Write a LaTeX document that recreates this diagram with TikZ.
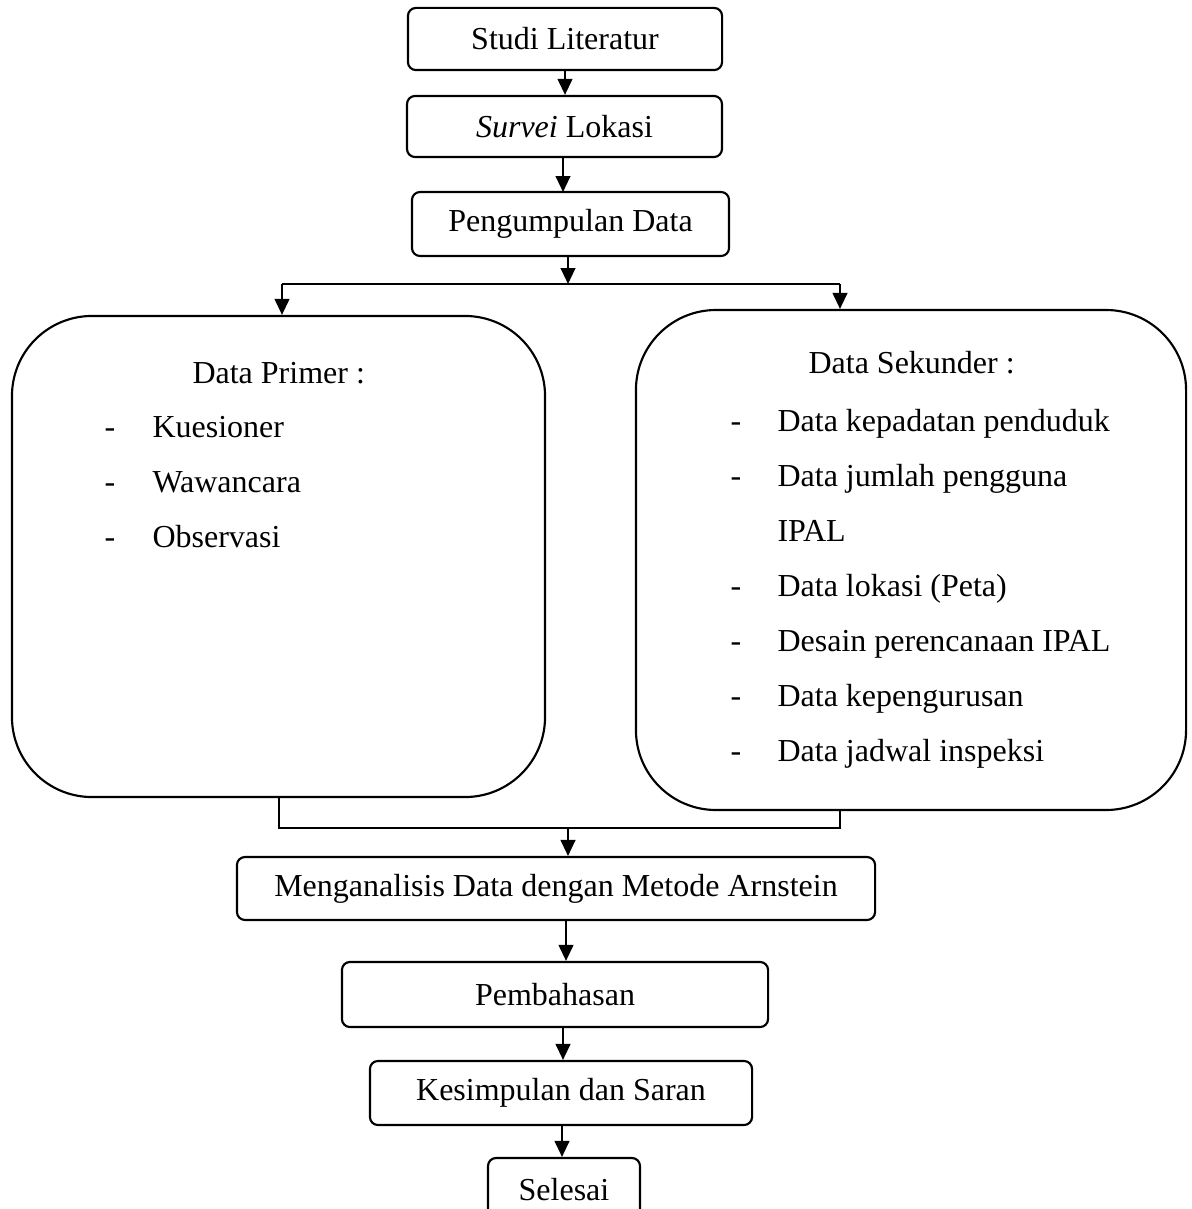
\documentclass[tikz,border=0pt]{standalone}
\usepackage{fontspec}
\setmainfont{Liberation Serif}
\usetikzlibrary{positioning}
\usetikzlibrary{arrows.meta}

\tikzset{
  stepbox/.style={draw, rounded corners=3pt, line width=0.8pt, inner sep=0pt},
  bigbox/.style={draw, rounded corners=30pt, line width=0.8pt, inner sep=0pt},
  flow/.style={line width=0.8pt, -{Triangle[length=6pt,width=5.5pt]}},
  link/.style={line width=0.8pt},
  itemtext/.style={anchor=base west, inner sep=0pt}
}

\begin{document}
\begin{tikzpicture}[x=0.375pt, y=-0.375pt, every node/.style={font=\fontsize{12}{14}\selectfont}]
                \useasboundingbox (0,0) rectangle (1191,1209);

                % Nodes
                \node[stepbox, minimum width=117.8pt, minimum height=23.3pt] at (565,39) (studi) {Studi Literatur};
                \node[stepbox, minimum width=118.1pt, minimum height=22.9pt] at (564.5,126.5) (survei) {\textit{Survei} Lokasi};
                \node[stepbox, minimum width=118.9pt, minimum height=24pt] at (570.5,224) (kumpul) {Pengumpulan Data};
                \node[bigbox, minimum width=199.9pt, minimum height=180.4pt] at (278.5,556.5) (primer) {};
                \node[bigbox, minimum width=206.3pt, minimum height=187.5pt] at (911,560) (sekunder) {};
                \node[stepbox, minimum width=239.3pt, minimum height=23.6pt] at (556,888.5) (analisis) {Menganalisis Data dengan Metode Arnstein};
                \node[stepbox, minimum width=159.8pt, minimum height=24.4pt] at (555,994.5) (bahas) {Pembahasan};
                \node[stepbox, minimum width=143.3pt, minimum height=24pt] at (561,1093) (simpul) {Kesimpulan dan Saran};
                \node[stepbox, minimum width=57pt, minimum height=24pt] at (564,1190) (selesai) {Selesai};

                % Data primer
                \node[itemtext] at (192,383) (primertitle) {Data Primer :};
                \foreach \y/\txt [count=\i] in {437/Kuesioner, 492/Wawancara, 547/Observasi} {
                  \node[itemtext] at (104,\y) (pdash\i) {-};
                  \node[itemtext] at (152,\y) (pitem\i) {\txt};
                }

                % Data sekunder
                \node[itemtext] at (808,373) (sekundertitle) {Data Sekunder :};
                \foreach \y/\txt [count=\i] in {431/Data kepadatan penduduk, 486/Data jumlah pengguna, 596/Data lokasi (Peta), 651/Desain perencanaan IPAL, 706/Data kepengurusan, 761/Data jadwal inspeksi} {
                  \node[itemtext] at (730,\y) (sdash\i) {-};
                  \node[itemtext] at (777,\y) (sitem\i) {\txt};
                }
                \node[itemtext] at (777,541) (sipal) {IPAL};

                % Split and join points
                \coordinate (split) at (568,284);
                \coordinate (splitL) at (282,284);
                \coordinate (splitR) at (840,284);
                \coordinate (join) at (568,828);
                \coordinate (joinL) at (279,828);
                \coordinate (joinR) at (840,828);

                % Arrows
                \draw[flow] (studi.south) -- (studi.south |- survei.north);
                \draw[flow] (563,157) -- (563,192);
                \draw[flow] (kumpul.south -| split) -- (split);
                \draw[link] (splitL) -- (splitR);
                \draw[flow] (splitL) -- (splitL |- primer.north);
                \draw[flow] (splitR) -- (splitR |- sekunder.north);
                \draw[link] (primer.south -| joinL) -- (joinL) -- (joinR) -- (joinR |- sekunder.south);
                \draw[flow] (join) -- (join |- analisis.north);
                \draw[flow] (analisis.south -| 566,0) -- (bahas.north -| 566,0);
                \draw[flow] (bahas.south -| 563,0) -- (simpul.north -| 563,0);
                \draw[flow] (simpul.south -| 562,0) -- (selesai.north -| 562,0);

            \end{tikzpicture}
\end{document}
